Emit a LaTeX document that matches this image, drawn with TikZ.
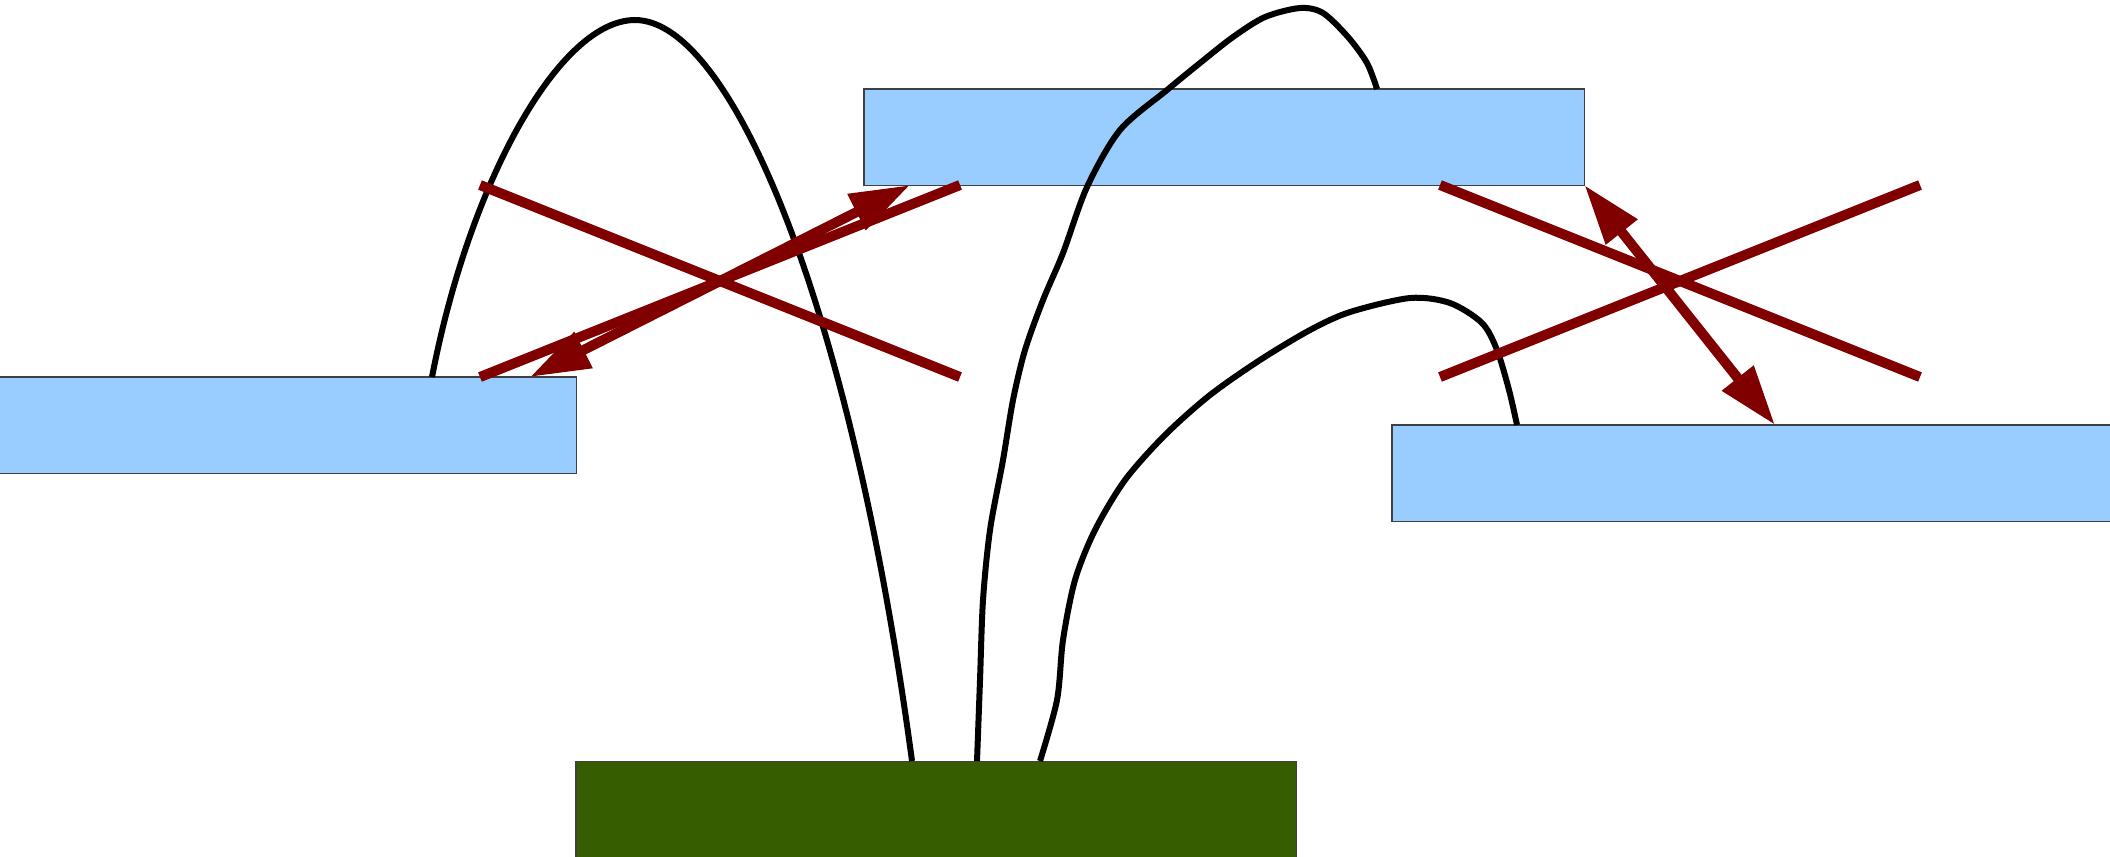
\documentclass[tikz,border=0pt]{standalone}
\usetikzlibrary{positioning}
\usetikzlibrary{arrows.meta}
\definecolor{blockc}{HTML}{99CCFF}
\definecolor{basec}{HTML}{365E00}
\definecolor{crossc}{HTML}{800000}

\tikzset{
  block/.style={draw=black!75, line width=0.3pt, fill=blockc, shape=rectangle,
    anchor=north west, inner sep=0pt, outer sep=0pt,
    minimum width=7.2cm, minimum height=0.96cm},
  crossline/.style={draw=crossc, line width=1mm},
  swap/.style={crossline, {Triangle[length=6mm,width=3.8mm]}-{Triangle[length=6mm,width=3.8mm]}},
  wire/.style={draw=black, line width=0.6mm},
}

\begin{document}
\begin{tikzpicture}[x=0.01cm, y=-0.01cm]
\useasboundingbox (0,0) rectangle (2110,856);

% the four blocks
\node[block] (topblock) at (864,89) {};
\node[block] (leftblock) at (-144,377) {};
\node[block] (rightblock) at (1392,425) {};
\node[block, fill=basec] (baseblock) at (576,761) {};

% wires down to the base
\draw[wire] (leftblock.north -| 432,0) .. controls (470,180) and (560,20) .. (635,20)
  .. controls (730,20) and (850,300) .. (baseblock.north -| 912,0);
\draw[wire] plot[smooth] coordinates {(topblock.north -| 1377,0) (1367,63) (1348,37)
  (1323,13) (1300,8) (1265,17) (1233,37) (1200,63) (1167,90) (1120,130) (1087,187)
  (1063,253) (1043,300) (1025,350) (1013,400) (1003,460) (990,530) (983,600)
  (980,680) (baseblock.north -| 977,0)};
\draw[wire] plot[smooth] coordinates {(rightblock.north -| 1517,0) (1509,390) (1497,350)
  (1482,323) (1450,303) (1410,298) (1350,312) (1310,330) (1260,360) (1210,395)
  (1165,435) (1125,480) (1095,530) (1075,580) (1063,640) (1057,700)
  (baseblock.north -| 1040,0)};

% crossed-out moves
\draw[crossline] (480,185) -- (960,377);
\draw[crossline] (480,377) -- (960,185);
\draw[crossline] (1440,185) -- (1920,377);
\draw[crossline] (1440,377) -- (1920,185);

% swaps
\draw[swap] (leftblock.north -| 530,0) -- (topblock.south -| 910,0);
\draw[swap] (topblock.south east) -- (rightblock.north -| 1775,0);

\end{tikzpicture}
\end{document}
